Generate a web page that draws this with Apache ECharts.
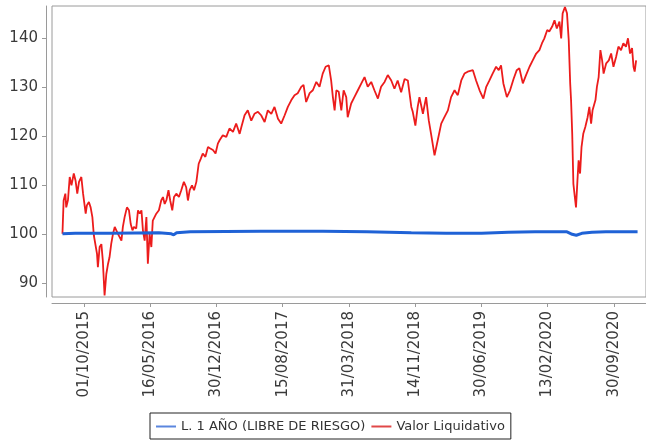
<!DOCTYPE html>
<html>
<head>
<meta charset="utf-8">
<script src="https://cdn.jsdelivr.net/npm/echarts@6/dist/echarts.min.js"></script>
<style>
html,body{margin:0;padding:0;background:#fff;}
#chart{width:646px;height:447px;}
</style>
</head>
<body>
<div id="chart"></div>
<script>
// ---- data ----
const seriesNames = ['L. 1 AÑO (LIBRE DE RIESGO)', 'Valor Liquidativo'];

const xTickDates = ['2015-10-01','2016-05-16','2016-12-30','2017-08-15','2018-03-31','2018-11-14','2019-06-30','2020-02-13','2020-09-30'];
const yTickValues = [90, 100, 110, 120, 130, 140];

const blueDates = ['2015-07-19','2015-09-01','2016-01-01','2016-06-15','2016-07-28','2016-08-05','2016-08-15','2016-10-01','2017-06-01','2018-01-01','2018-06-01','2018-11-01','2019-03-01','2019-07-01','2019-10-01','2020-01-01','2020-04-20','2020-05-08','2020-05-22','2020-06-10','2020-07-15','2020-09-01','2020-12-19'];
const blueValues = [100.0,100.1,100.1,100.2,100.0,99.8,100.2,100.4,100.5,100.5,100.4,100.2,100.1,100.1,100.3,100.4,100.4,99.9,99.7,100.1,100.3,100.4,100.4];

const redDates = [
'2015-07-19','2015-07-23','2015-07-29','2015-08-01','2015-08-07','2015-08-13','2015-08-19','2015-08-27','2015-09-02','2015-09-08',
'2015-09-14','2015-09-22','2015-09-28','2015-10-07','2015-10-11','2015-10-18','2015-10-24','2015-10-30','2015-11-04','2015-11-10',
'2015-11-15','2015-11-18','2015-11-24','2015-11-30','2015-12-05','2015-12-11','2015-12-17','2015-12-23','2015-12-28','2016-01-03',
'2016-01-09','2016-01-15','2016-01-20','2016-01-26','2016-02-01','2016-02-07','2016-02-12','2016-02-18','2016-02-26','2016-03-04',
'2016-03-10','2016-03-16','2016-03-21','2016-03-29','2016-04-04','2016-04-10','2016-04-16','2016-04-21','2016-04-27','2016-05-03',
'2016-05-08','2016-05-14','2016-05-20','2016-05-25','2016-05-31','2016-06-06','2016-06-15','2016-06-23','2016-06-29','2016-07-05',
'2016-07-11','2016-07-18','2016-07-24','2016-07-31','2016-08-06','2016-08-14','2016-08-23','2016-08-31','2016-09-09','2016-09-17',
'2016-09-23','2016-09-29','2016-10-07','2016-10-14','2016-10-22','2016-10-30','2016-11-06','2016-11-13','2016-11-22','2016-12-01',
'2016-12-09','2016-12-18','2016-12-27','2017-01-04','2017-01-10','2017-01-21','2017-02-02','2017-02-13','2017-02-25','2017-03-08',
'2017-03-20','2017-03-26','2017-04-06','2017-04-17','2017-04-29','2017-05-10','2017-05-22','2017-06-02','2017-06-14','2017-06-25',
'2017-07-07','2017-07-18','2017-07-30','2017-08-10','2017-08-22','2017-09-02','2017-09-14','2017-09-25','2017-10-06','2017-10-18',
'2017-10-26','2017-11-04','2017-11-16','2017-11-27','2017-12-09','2017-12-20','2017-12-31','2018-01-10','2018-01-21','2018-01-29',
'2018-02-04','2018-02-10','2018-02-16','2018-02-24','2018-03-05','2018-03-13','2018-03-22','2018-03-27','2018-04-08','2018-04-19',
'2018-05-01','2018-05-13','2018-05-24','2018-06-04','2018-06-16','2018-06-27','2018-07-09','2018-07-20','2018-08-01','2018-08-12',
'2018-08-24','2018-09-04','2018-09-15','2018-09-27','2018-10-09','2018-10-20','2018-11-01','2018-11-06','2018-11-15','2018-11-23',
'2018-11-29','2018-12-11','2018-12-22','2018-12-31','2019-01-08','2019-01-20','2019-01-31','2019-02-12','2019-02-23','2019-03-07',
'2019-03-18','2019-03-30','2019-04-10','2019-04-22','2019-05-03','2019-05-14','2019-06-01','2019-06-12','2019-06-24','2019-07-07',
'2019-07-17','2019-07-28','2019-08-08','2019-08-20','2019-08-29','2019-09-06','2019-09-14','2019-09-26','2019-10-07','2019-10-19',
'2019-10-30','2019-11-08','2019-11-20','2019-12-01','2019-12-13','2019-12-24','2020-01-05','2020-01-16','2020-01-25','2020-02-02',
'2020-02-12','2020-02-19','2020-02-29','2020-03-08','2020-03-16','2020-03-25','2020-03-31','2020-04-05','2020-04-13','2020-04-20',
'2020-04-26','2020-05-01','2020-05-04','2020-05-08','2020-05-12','2020-05-17','2020-05-21','2020-05-26','2020-05-30','2020-06-04',
'2020-06-09','2020-06-15','2020-06-22','2020-06-30','2020-07-06','2020-07-12','2020-07-17','2020-07-27','2020-08-01','2020-08-07',
'2020-08-13','2020-08-19','2020-08-24','2020-09-02','2020-09-11','2020-09-19','2020-09-27','2020-10-06','2020-10-14','2020-10-23',
'2020-10-31','2020-11-09','2020-11-16','2020-11-23','2020-11-30','2020-12-05','2020-12-09','2020-12-14'
];
const redValues = [
100.0,106.8,108.2,105.4,106.9,111.6,109.9,112.3,110.9,108.2,
110.6,111.6,108.2,104.1,105.8,106.5,105.4,103.4,99.7,99.3,
95.9,93.2,97.3,97.9,94.5,87.4,91.8,93.9,95.2,98.0,
100.0,101.4,101.1,100.0,99.7,98.6,101.4,103.4,105.4,104.8,
102.0,100.7,101.4,101.1,104.8,104.1,104.8,100.7,98.6,103.4,
93.9,100.0,97.3,102.7,103.4,104.1,104.8,106.8,107.5,106.1,
106.9,108.9,106.8,104.8,107.5,108.2,107.5,108.9,110.6,109.5,
106.8,108.9,109.9,108.9,110.6,114.3,115.3,116.4,115.7,117.7,
117.4,117.1,116.4,118.4,119.1,120.1,119.8,121.5,120.8,122.5,
120.4,121.8,124.2,125.2,123.1,124.5,124.9,124.2,122.8,125.2,
124.5,125.9,123.5,122.5,124.2,125.9,127.3,128.3,128.7,130.0,
130.4,126.9,128.7,129.3,131.0,130.0,132.7,134.1,134.4,131.3,
127.9,125.2,129.3,129.0,125.2,129.3,127.9,123.8,126.6,127.9,
129.3,130.7,132.0,130.0,131.0,129.3,127.6,130.0,131.0,132.4,
131.3,129.6,131.3,128.9,131.6,131.3,125.9,124.9,122.1,125.9,
127.9,124.5,127.9,123.2,120.4,116.0,119.1,122.5,123.8,125.2,
127.9,129.3,128.3,131.3,132.7,133.1,133.4,131.3,129.3,127.6,
130.0,131.3,132.7,134.1,133.4,134.4,130.7,127.9,129.3,131.6,
133.4,133.8,130.7,132.4,134.1,135.4,136.8,137.5,138.9,139.9,
141.6,141.3,142.3,143.6,141.9,143.3,139.9,145.0,146.3,145.0,
139.5,130.7,127.3,120.4,110.2,107.5,105.4,110.9,115.0,112.3,
117.7,120.4,121.8,123.8,125.9,122.5,125.2,127.3,130.0,132.0,
137.5,135.4,132.7,134.8,135.4,136.8,134.1,136.1,138.2,137.5,
138.9,138.2,139.9,136.8,137.9,134.1,133.1,135.4
];

// ---- chart ----
function ts(s) { const p = s.split('-'); return Date.UTC(+p[0], +p[1] - 1, +p[2]); }
function pad(n) { return (n < 10 ? '0' : '') + n; }
function fmtDate(v) { const d = new Date(v); return pad(d.getUTCDate()) + '/' + pad(d.getUTCMonth() + 1) + '/' + d.getUTCFullYear(); }

const blueData = blueDates.map((d, i) => [ts(d), blueValues[i]]);
const redData = redDates.map((d, i) => [ts(d), redValues[i]]);
const xTicks = xTickDates.map(ts);

const chart = echarts.init(document.getElementById('chart'), null, { renderer: 'canvas' });
const axisFont = { fontFamily: 'DejaVu Sans', fontSize: 15, color: '#3a3a3a' };

chart.setOption({
  animation: false,
  backgroundColor: '#fff',
  grid: {
    left: 52, top: 6, right: -2, height: 291,
    show: true, borderColor: '#9a9a9a', borderWidth: 1, backgroundColor: '#fff'
  },
  xAxis: {
    type: 'value',
    min: ts('2015-06-13'),
    max: ts('2021-01-17'),
    offset: 6,
    axisLine: { show: true, onZero: false, lineStyle: { color: '#9a9a9a', width: 1 } },
    axisTick: { show: true, length: 4, lineStyle: { color: '#9a9a9a' }, customValues: xTicks },
    axisLabel: Object.assign({ rotate: 90, margin: 8, customValues: xTicks, formatter: fmtDate, hideOverlap: false }, axisFont),
    splitLine: { show: false }
  },
  yAxis: {
    type: 'value',
    min: 87.1,
    max: 146.5,
    offset: 6,
    axisLine: { show: true, onZero: false, lineStyle: { color: '#9a9a9a', width: 1 } },
    axisTick: { show: true, length: 4, lineStyle: { color: '#9a9a9a' }, customValues: yTickValues },
    axisLabel: Object.assign({ margin: 8, customValues: yTickValues }, axisFont),
    splitLine: { show: false }
  },
  legend: {
    left: 150, top: 413,
    orient: 'horizontal',
    borderColor: '#222', borderWidth: 1,
    padding: [7, 6, 6, 6],
    itemGap: 6, itemWidth: 20, itemHeight: 2,
    icon: 'rect',
    textStyle: { fontFamily: 'DejaVu Sans', fontSize: 13, color: '#333' },
    data: seriesNames
  },
  series: [
    {
      name: seriesNames[0], type: 'line', data: blueData, showSymbol: false, z: 3,
      lineStyle: { color: '#1f62d6', width: 3 }, itemStyle: { color: '#5b86de' }
    },
    {
      name: seriesNames[1], type: 'line', data: redData, showSymbol: false, z: 2,
      lineStyle: { color: '#ec1c1c', width: 1.8 }, itemStyle: { color: '#e04848' }
    }
  ]
});
</script>
</body>
</html>
